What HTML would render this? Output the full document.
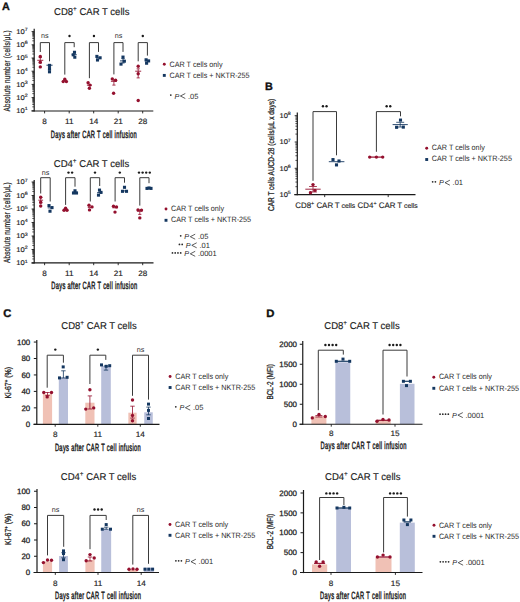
<!DOCTYPE html>
<html><head><meta charset="utf-8"><style>
html,body{margin:0;padding:0;background:#fff;width:520px;height:602px;overflow:hidden}
svg{display:block;font-family:"Liberation Sans", sans-serif}
</style></head><body>
<svg width="520" height="602" viewBox="0 0 520 602" text-rendering="geometricPrecision" font-family='"Liberation Sans", sans-serif'>
<rect width="520" height="602" fill="#fff"/>
<text transform="translate(1.90,9.50)" font-size="10.8" text-anchor="start" fill="#111" font-weight="bold" stroke="#111" stroke-width="0.35">A</text>
<text transform="translate(54.00,14.90) scale(0.965,1)" font-size="9.9" text-anchor="start" fill="#222" stroke="#222" stroke-width="0.15">CD8<tspan font-size="6.6" dy="-4.0">+</tspan><tspan dy="4.0"> CAR T cells</tspan></text>
<line x1="34.20" y1="28.70" x2="34.20" y2="111.40" stroke="#1a1a1a" stroke-width="1.2"/>
<line x1="31.60" y1="110.80" x2="34.20" y2="110.80" stroke="#1a1a1a" stroke-width="0.9"/>
<text transform="translate(27.60,113.20) scale(1.100,1)" font-size="6.9" text-anchor="end" fill="#222" stroke="#222" stroke-width="0.15">10<tspan font-size="4.8" dy="-2.9">1</tspan></text>
<line x1="32.30" y1="106.83" x2="34.20" y2="106.83" stroke="#1a1a1a" stroke-width="0.75"/>
<line x1="32.30" y1="104.50" x2="34.20" y2="104.50" stroke="#1a1a1a" stroke-width="0.75"/>
<line x1="32.30" y1="102.85" x2="34.20" y2="102.85" stroke="#1a1a1a" stroke-width="0.75"/>
<line x1="32.30" y1="101.57" x2="34.20" y2="101.57" stroke="#1a1a1a" stroke-width="0.75"/>
<line x1="32.30" y1="100.53" x2="34.20" y2="100.53" stroke="#1a1a1a" stroke-width="0.75"/>
<line x1="32.30" y1="99.64" x2="34.20" y2="99.64" stroke="#1a1a1a" stroke-width="0.75"/>
<line x1="32.30" y1="98.88" x2="34.20" y2="98.88" stroke="#1a1a1a" stroke-width="0.75"/>
<line x1="32.30" y1="98.20" x2="34.20" y2="98.20" stroke="#1a1a1a" stroke-width="0.75"/>
<line x1="31.60" y1="97.60" x2="34.20" y2="97.60" stroke="#1a1a1a" stroke-width="0.9"/>
<text transform="translate(27.60,100.00) scale(1.100,1)" font-size="6.9" text-anchor="end" fill="#222" stroke="#222" stroke-width="0.15">10<tspan font-size="4.8" dy="-2.9">2</tspan></text>
<line x1="32.30" y1="93.63" x2="34.20" y2="93.63" stroke="#1a1a1a" stroke-width="0.75"/>
<line x1="32.30" y1="91.30" x2="34.20" y2="91.30" stroke="#1a1a1a" stroke-width="0.75"/>
<line x1="32.30" y1="89.65" x2="34.20" y2="89.65" stroke="#1a1a1a" stroke-width="0.75"/>
<line x1="32.30" y1="88.37" x2="34.20" y2="88.37" stroke="#1a1a1a" stroke-width="0.75"/>
<line x1="32.30" y1="87.33" x2="34.20" y2="87.33" stroke="#1a1a1a" stroke-width="0.75"/>
<line x1="32.30" y1="86.44" x2="34.20" y2="86.44" stroke="#1a1a1a" stroke-width="0.75"/>
<line x1="32.30" y1="85.68" x2="34.20" y2="85.68" stroke="#1a1a1a" stroke-width="0.75"/>
<line x1="32.30" y1="85.00" x2="34.20" y2="85.00" stroke="#1a1a1a" stroke-width="0.75"/>
<line x1="31.60" y1="84.40" x2="34.20" y2="84.40" stroke="#1a1a1a" stroke-width="0.9"/>
<text transform="translate(27.60,86.80) scale(1.100,1)" font-size="6.9" text-anchor="end" fill="#222" stroke="#222" stroke-width="0.15">10<tspan font-size="4.8" dy="-2.9">3</tspan></text>
<line x1="32.30" y1="80.43" x2="34.20" y2="80.43" stroke="#1a1a1a" stroke-width="0.75"/>
<line x1="32.30" y1="78.10" x2="34.20" y2="78.10" stroke="#1a1a1a" stroke-width="0.75"/>
<line x1="32.30" y1="76.45" x2="34.20" y2="76.45" stroke="#1a1a1a" stroke-width="0.75"/>
<line x1="32.30" y1="75.17" x2="34.20" y2="75.17" stroke="#1a1a1a" stroke-width="0.75"/>
<line x1="32.30" y1="74.13" x2="34.20" y2="74.13" stroke="#1a1a1a" stroke-width="0.75"/>
<line x1="32.30" y1="73.24" x2="34.20" y2="73.24" stroke="#1a1a1a" stroke-width="0.75"/>
<line x1="32.30" y1="72.48" x2="34.20" y2="72.48" stroke="#1a1a1a" stroke-width="0.75"/>
<line x1="32.30" y1="71.80" x2="34.20" y2="71.80" stroke="#1a1a1a" stroke-width="0.75"/>
<line x1="31.60" y1="71.20" x2="34.20" y2="71.20" stroke="#1a1a1a" stroke-width="0.9"/>
<text transform="translate(27.60,73.60) scale(1.100,1)" font-size="6.9" text-anchor="end" fill="#222" stroke="#222" stroke-width="0.15">10<tspan font-size="4.8" dy="-2.9">4</tspan></text>
<line x1="32.30" y1="67.23" x2="34.20" y2="67.23" stroke="#1a1a1a" stroke-width="0.75"/>
<line x1="32.30" y1="64.90" x2="34.20" y2="64.90" stroke="#1a1a1a" stroke-width="0.75"/>
<line x1="32.30" y1="63.25" x2="34.20" y2="63.25" stroke="#1a1a1a" stroke-width="0.75"/>
<line x1="32.30" y1="61.97" x2="34.20" y2="61.97" stroke="#1a1a1a" stroke-width="0.75"/>
<line x1="32.30" y1="60.93" x2="34.20" y2="60.93" stroke="#1a1a1a" stroke-width="0.75"/>
<line x1="32.30" y1="60.04" x2="34.20" y2="60.04" stroke="#1a1a1a" stroke-width="0.75"/>
<line x1="32.30" y1="59.28" x2="34.20" y2="59.28" stroke="#1a1a1a" stroke-width="0.75"/>
<line x1="32.30" y1="58.60" x2="34.20" y2="58.60" stroke="#1a1a1a" stroke-width="0.75"/>
<line x1="31.60" y1="58.00" x2="34.20" y2="58.00" stroke="#1a1a1a" stroke-width="0.9"/>
<text transform="translate(27.60,60.40) scale(1.100,1)" font-size="6.9" text-anchor="end" fill="#222" stroke="#222" stroke-width="0.15">10<tspan font-size="4.8" dy="-2.9">5</tspan></text>
<line x1="32.30" y1="54.03" x2="34.20" y2="54.03" stroke="#1a1a1a" stroke-width="0.75"/>
<line x1="32.30" y1="51.70" x2="34.20" y2="51.70" stroke="#1a1a1a" stroke-width="0.75"/>
<line x1="32.30" y1="50.05" x2="34.20" y2="50.05" stroke="#1a1a1a" stroke-width="0.75"/>
<line x1="32.30" y1="48.77" x2="34.20" y2="48.77" stroke="#1a1a1a" stroke-width="0.75"/>
<line x1="32.30" y1="47.73" x2="34.20" y2="47.73" stroke="#1a1a1a" stroke-width="0.75"/>
<line x1="32.30" y1="46.84" x2="34.20" y2="46.84" stroke="#1a1a1a" stroke-width="0.75"/>
<line x1="32.30" y1="46.08" x2="34.20" y2="46.08" stroke="#1a1a1a" stroke-width="0.75"/>
<line x1="32.30" y1="45.40" x2="34.20" y2="45.40" stroke="#1a1a1a" stroke-width="0.75"/>
<line x1="31.60" y1="44.80" x2="34.20" y2="44.80" stroke="#1a1a1a" stroke-width="0.9"/>
<text transform="translate(27.60,47.20) scale(1.100,1)" font-size="6.9" text-anchor="end" fill="#222" stroke="#222" stroke-width="0.15">10<tspan font-size="4.8" dy="-2.9">6</tspan></text>
<line x1="32.30" y1="40.83" x2="34.20" y2="40.83" stroke="#1a1a1a" stroke-width="0.75"/>
<line x1="32.30" y1="38.50" x2="34.20" y2="38.50" stroke="#1a1a1a" stroke-width="0.75"/>
<line x1="32.30" y1="36.85" x2="34.20" y2="36.85" stroke="#1a1a1a" stroke-width="0.75"/>
<line x1="32.30" y1="35.57" x2="34.20" y2="35.57" stroke="#1a1a1a" stroke-width="0.75"/>
<line x1="32.30" y1="34.53" x2="34.20" y2="34.53" stroke="#1a1a1a" stroke-width="0.75"/>
<line x1="32.30" y1="33.64" x2="34.20" y2="33.64" stroke="#1a1a1a" stroke-width="0.75"/>
<line x1="32.30" y1="32.88" x2="34.20" y2="32.88" stroke="#1a1a1a" stroke-width="0.75"/>
<line x1="32.30" y1="32.20" x2="34.20" y2="32.20" stroke="#1a1a1a" stroke-width="0.75"/>
<line x1="31.60" y1="31.60" x2="34.20" y2="31.60" stroke="#1a1a1a" stroke-width="0.9"/>
<text transform="translate(27.60,34.00) scale(1.100,1)" font-size="6.9" text-anchor="end" fill="#222" stroke="#222" stroke-width="0.15">10<tspan font-size="4.8" dy="-2.9">7</tspan></text>
<line x1="31.60" y1="111.00" x2="153.30" y2="111.00" stroke="#1a1a1a" stroke-width="1.2"/>
<line x1="44.60" y1="111.00" x2="44.60" y2="113.40" stroke="#1a1a1a" stroke-width="0.9"/>
<text transform="translate(44.60,124.00) scale(1.050,1)" font-size="7.8" text-anchor="middle" fill="#222" stroke="#222" stroke-width="0.15">8</text>
<line x1="69.20" y1="111.00" x2="69.20" y2="113.40" stroke="#1a1a1a" stroke-width="0.9"/>
<text transform="translate(69.20,124.00) scale(1.050,1)" font-size="7.8" text-anchor="middle" fill="#222" stroke="#222" stroke-width="0.15">11</text>
<line x1="93.70" y1="111.00" x2="93.70" y2="113.40" stroke="#1a1a1a" stroke-width="0.9"/>
<text transform="translate(93.70,124.00) scale(1.050,1)" font-size="7.8" text-anchor="middle" fill="#222" stroke="#222" stroke-width="0.15">14</text>
<line x1="118.20" y1="111.00" x2="118.20" y2="113.40" stroke="#1a1a1a" stroke-width="0.9"/>
<text transform="translate(118.20,124.00) scale(1.050,1)" font-size="7.8" text-anchor="middle" fill="#222" stroke="#222" stroke-width="0.15">21</text>
<line x1="142.70" y1="111.00" x2="142.70" y2="113.40" stroke="#1a1a1a" stroke-width="0.9"/>
<text transform="translate(142.70,124.00) scale(1.050,1)" font-size="7.8" text-anchor="middle" fill="#222" stroke="#222" stroke-width="0.15">28</text>
<text transform="translate(50.80,137.60) scale(0.552,1)" font-size="10.4" text-anchor="start" fill="#222" stroke="#222" stroke-width="0.5" letter-spacing="0.6">Days after CAR T cell infusion</text>
<text transform="translate(10.30,111.50) rotate(-90) scale(0.706,1)" font-size="9.0" text-anchor="start" fill="#222" stroke="#222" stroke-width="0.25" letter-spacing="0.3">Absolute number (cells/μL)</text>
<polyline points="40.30,52.00 40.30,42.60 49.50,42.60 49.50,61.30" fill="none" stroke="#3a3a3a" stroke-width="1.0"/>
<text transform="translate(44.90,38.30)" font-size="7.2" text-anchor="middle" fill="#333">ns</text>
<polyline points="64.80,74.60 64.80,42.60 74.20,42.60 74.20,47.20" fill="none" stroke="#3a3a3a" stroke-width="1.0"/>
<circle cx="69.50" cy="36.00" r="1.2" fill="#1a1a1a"/>
<polyline points="89.40,78.20 89.40,42.60 98.50,42.60 98.50,51.90" fill="none" stroke="#3a3a3a" stroke-width="1.0"/>
<circle cx="93.95" cy="36.00" r="1.2" fill="#1a1a1a"/>
<polyline points="113.90,74.40 113.90,42.60 123.00,42.60 123.00,51.90" fill="none" stroke="#3a3a3a" stroke-width="1.0"/>
<text transform="translate(118.45,38.30)" font-size="7.2" text-anchor="middle" fill="#333">ns</text>
<polyline points="138.20,61.30 138.20,42.60 147.40,42.60 147.40,55.60" fill="none" stroke="#3a3a3a" stroke-width="1.0"/>
<circle cx="142.80" cy="36.00" r="1.2" fill="#1a1a1a"/>
<line x1="40.30" y1="57.60" x2="40.30" y2="63.00" stroke="#94102e" stroke-width="0.8"/>
<line x1="38.70" y1="57.60" x2="41.90" y2="57.60" stroke="#94102e" stroke-width="0.8"/>
<line x1="38.70" y1="63.00" x2="41.90" y2="63.00" stroke="#94102e" stroke-width="0.8"/>
<line x1="37.30" y1="60.30" x2="43.30" y2="60.30" stroke="#94102e" stroke-width="0.9"/>
<circle cx="40.30" cy="56.50" r="1.7" fill="#94102e"/>
<circle cx="40.30" cy="62.30" r="1.7" fill="#94102e"/>
<circle cx="40.30" cy="66.90" r="1.7" fill="#94102e"/>
<line x1="49.50" y1="65.20" x2="49.50" y2="70.00" stroke="#143760" stroke-width="0.8"/>
<line x1="47.90" y1="65.20" x2="51.10" y2="65.20" stroke="#143760" stroke-width="0.8"/>
<line x1="47.90" y1="70.00" x2="51.10" y2="70.00" stroke="#143760" stroke-width="0.8"/>
<line x1="46.40" y1="65.20" x2="52.60" y2="65.20" stroke="#143760" stroke-width="0.9"/>
<rect x="47.95" y="63.85" width="3.1" height="3.1" fill="#143760"/>
<rect x="47.95" y="67.05" width="3.1" height="3.1" fill="#143760"/>
<rect x="47.95" y="70.25" width="3.1" height="3.1" fill="#143760"/>
<line x1="62.30" y1="80.80" x2="67.30" y2="80.80" stroke="#94102e" stroke-width="0.9"/>
<circle cx="64.80" cy="79.20" r="1.7" fill="#94102e"/>
<circle cx="63.20" cy="81.60" r="1.7" fill="#94102e"/>
<circle cx="66.40" cy="81.60" r="1.7" fill="#94102e"/>
<line x1="71.70" y1="54.60" x2="76.70" y2="54.60" stroke="#143760" stroke-width="0.9"/>
<rect x="72.95" y="50.75" width="3.1" height="3.1" fill="#143760"/>
<rect x="71.65" y="53.25" width="3.1" height="3.1" fill="#143760"/>
<rect x="73.25" y="55.65" width="3.1" height="3.1" fill="#143760"/>
<line x1="86.90" y1="85.20" x2="91.90" y2="85.20" stroke="#94102e" stroke-width="0.9"/>
<circle cx="88.10" cy="82.70" r="1.7" fill="#94102e"/>
<circle cx="90.00" cy="85.10" r="1.7" fill="#94102e"/>
<circle cx="89.40" cy="88.30" r="1.7" fill="#94102e"/>
<line x1="96.00" y1="57.90" x2="101.00" y2="57.90" stroke="#143760" stroke-width="0.9"/>
<rect x="95.35" y="54.85" width="3.1" height="3.1" fill="#143760"/>
<rect x="98.55" y="56.25" width="3.1" height="3.1" fill="#143760"/>
<rect x="95.95" y="58.45" width="3.1" height="3.1" fill="#143760"/>
<line x1="113.90" y1="80.00" x2="113.90" y2="85.10" stroke="#94102e" stroke-width="0.8"/>
<line x1="112.30" y1="80.00" x2="115.50" y2="80.00" stroke="#94102e" stroke-width="0.8"/>
<line x1="112.30" y1="85.10" x2="115.50" y2="85.10" stroke="#94102e" stroke-width="0.8"/>
<line x1="110.90" y1="81.30" x2="116.90" y2="81.30" stroke="#94102e" stroke-width="0.9"/>
<circle cx="112.30" cy="78.90" r="1.7" fill="#94102e"/>
<circle cx="115.60" cy="80.30" r="1.7" fill="#94102e"/>
<circle cx="113.60" cy="93.20" r="1.7" fill="#94102e"/>
<line x1="123.00" y1="58.60" x2="123.00" y2="63.00" stroke="#143760" stroke-width="0.8"/>
<line x1="121.40" y1="58.60" x2="124.60" y2="58.60" stroke="#143760" stroke-width="0.8"/>
<line x1="121.40" y1="63.00" x2="124.60" y2="63.00" stroke="#143760" stroke-width="0.8"/>
<line x1="120.00" y1="60.90" x2="126.00" y2="60.90" stroke="#143760" stroke-width="0.9"/>
<rect x="121.45" y="55.55" width="3.1" height="3.1" fill="#143760"/>
<rect x="122.75" y="59.65" width="3.1" height="3.1" fill="#143760"/>
<rect x="119.45" y="62.55" width="3.1" height="3.1" fill="#143760"/>
<line x1="138.20" y1="68.80" x2="138.20" y2="77.90" stroke="#94102e" stroke-width="0.8"/>
<line x1="136.60" y1="68.80" x2="139.80" y2="68.80" stroke="#94102e" stroke-width="0.8"/>
<line x1="136.60" y1="77.90" x2="139.80" y2="77.90" stroke="#94102e" stroke-width="0.8"/>
<line x1="135.20" y1="71.20" x2="141.20" y2="71.20" stroke="#94102e" stroke-width="0.9"/>
<circle cx="138.20" cy="66.30" r="1.7" fill="#94102e"/>
<circle cx="138.20" cy="73.70" r="1.7" fill="#94102e"/>
<circle cx="138.20" cy="100.50" r="1.7" fill="#94102e"/>
<line x1="144.90" y1="61.00" x2="149.90" y2="61.00" stroke="#143760" stroke-width="0.9"/>
<rect x="144.55" y="58.25" width="3.1" height="3.1" fill="#143760"/>
<rect x="147.05" y="59.35" width="3.1" height="3.1" fill="#143760"/>
<rect x="145.05" y="61.65" width="3.1" height="3.1" fill="#143760"/>
<circle cx="164.30" cy="64.30" r="1.45" fill="#94102e"/>
<rect x="162.85" y="73.95" width="2.9" height="2.9" fill="#143760"/>
<text transform="translate(169.50,66.50) scale(0.925,1)" font-size="7.8" text-anchor="start" fill="#2a2a2a">CAR T cells only</text>
<text transform="translate(169.50,77.70) scale(0.925,1)" font-size="7.8" text-anchor="start" fill="#2a2a2a">CAR T cells + NKTR-255</text>
<circle cx="170.80" cy="95.10" r="0.88" fill="#2a2a2a"/>
<text transform="translate(174.40,98.50)" font-size="7.2" text-anchor="start" fill="#2a2a2a" font-style="italic">P</text>
<polyline points="185.30,93.50 180.40,96.00 185.30,98.50" fill="none" stroke="#2a2a2a" stroke-width="0.75"/>
<text transform="translate(188.00,98.50)" font-size="7.5" text-anchor="start" fill="#2a2a2a">.05</text>
<text transform="translate(53.80,167.00) scale(0.965,1)" font-size="9.9" text-anchor="start" fill="#222" stroke="#222" stroke-width="0.15">CD4<tspan font-size="6.6" dy="-4.0">+</tspan><tspan dy="4.0"> CAR T cells</tspan></text>
<line x1="34.20" y1="180.00" x2="34.20" y2="263.60" stroke="#1a1a1a" stroke-width="1.2"/>
<line x1="31.60" y1="263.00" x2="34.20" y2="263.00" stroke="#1a1a1a" stroke-width="0.9"/>
<text transform="translate(27.60,265.40) scale(1.100,1)" font-size="6.9" text-anchor="end" fill="#222" stroke="#222" stroke-width="0.15">10<tspan font-size="4.8" dy="-2.9">1</tspan></text>
<line x1="32.30" y1="258.94" x2="34.20" y2="258.94" stroke="#1a1a1a" stroke-width="0.75"/>
<line x1="32.30" y1="256.56" x2="34.20" y2="256.56" stroke="#1a1a1a" stroke-width="0.75"/>
<line x1="32.30" y1="254.87" x2="34.20" y2="254.87" stroke="#1a1a1a" stroke-width="0.75"/>
<line x1="32.30" y1="253.56" x2="34.20" y2="253.56" stroke="#1a1a1a" stroke-width="0.75"/>
<line x1="32.30" y1="252.49" x2="34.20" y2="252.49" stroke="#1a1a1a" stroke-width="0.75"/>
<line x1="32.30" y1="251.59" x2="34.20" y2="251.59" stroke="#1a1a1a" stroke-width="0.75"/>
<line x1="32.30" y1="250.81" x2="34.20" y2="250.81" stroke="#1a1a1a" stroke-width="0.75"/>
<line x1="32.30" y1="250.12" x2="34.20" y2="250.12" stroke="#1a1a1a" stroke-width="0.75"/>
<line x1="31.60" y1="249.50" x2="34.20" y2="249.50" stroke="#1a1a1a" stroke-width="0.9"/>
<text transform="translate(27.60,251.90) scale(1.100,1)" font-size="6.9" text-anchor="end" fill="#222" stroke="#222" stroke-width="0.15">10<tspan font-size="4.8" dy="-2.9">2</tspan></text>
<line x1="32.30" y1="245.44" x2="34.20" y2="245.44" stroke="#1a1a1a" stroke-width="0.75"/>
<line x1="32.30" y1="243.06" x2="34.20" y2="243.06" stroke="#1a1a1a" stroke-width="0.75"/>
<line x1="32.30" y1="241.37" x2="34.20" y2="241.37" stroke="#1a1a1a" stroke-width="0.75"/>
<line x1="32.30" y1="240.06" x2="34.20" y2="240.06" stroke="#1a1a1a" stroke-width="0.75"/>
<line x1="32.30" y1="238.99" x2="34.20" y2="238.99" stroke="#1a1a1a" stroke-width="0.75"/>
<line x1="32.30" y1="238.09" x2="34.20" y2="238.09" stroke="#1a1a1a" stroke-width="0.75"/>
<line x1="32.30" y1="237.31" x2="34.20" y2="237.31" stroke="#1a1a1a" stroke-width="0.75"/>
<line x1="32.30" y1="236.62" x2="34.20" y2="236.62" stroke="#1a1a1a" stroke-width="0.75"/>
<line x1="31.60" y1="236.00" x2="34.20" y2="236.00" stroke="#1a1a1a" stroke-width="0.9"/>
<text transform="translate(27.60,238.40) scale(1.100,1)" font-size="6.9" text-anchor="end" fill="#222" stroke="#222" stroke-width="0.15">10<tspan font-size="4.8" dy="-2.9">3</tspan></text>
<line x1="32.30" y1="231.94" x2="34.20" y2="231.94" stroke="#1a1a1a" stroke-width="0.75"/>
<line x1="32.30" y1="229.56" x2="34.20" y2="229.56" stroke="#1a1a1a" stroke-width="0.75"/>
<line x1="32.30" y1="227.87" x2="34.20" y2="227.87" stroke="#1a1a1a" stroke-width="0.75"/>
<line x1="32.30" y1="226.56" x2="34.20" y2="226.56" stroke="#1a1a1a" stroke-width="0.75"/>
<line x1="32.30" y1="225.49" x2="34.20" y2="225.49" stroke="#1a1a1a" stroke-width="0.75"/>
<line x1="32.30" y1="224.59" x2="34.20" y2="224.59" stroke="#1a1a1a" stroke-width="0.75"/>
<line x1="32.30" y1="223.81" x2="34.20" y2="223.81" stroke="#1a1a1a" stroke-width="0.75"/>
<line x1="32.30" y1="223.12" x2="34.20" y2="223.12" stroke="#1a1a1a" stroke-width="0.75"/>
<line x1="31.60" y1="222.50" x2="34.20" y2="222.50" stroke="#1a1a1a" stroke-width="0.9"/>
<text transform="translate(27.60,224.90) scale(1.100,1)" font-size="6.9" text-anchor="end" fill="#222" stroke="#222" stroke-width="0.15">10<tspan font-size="4.8" dy="-2.9">4</tspan></text>
<line x1="32.30" y1="218.44" x2="34.20" y2="218.44" stroke="#1a1a1a" stroke-width="0.75"/>
<line x1="32.30" y1="216.06" x2="34.20" y2="216.06" stroke="#1a1a1a" stroke-width="0.75"/>
<line x1="32.30" y1="214.37" x2="34.20" y2="214.37" stroke="#1a1a1a" stroke-width="0.75"/>
<line x1="32.30" y1="213.06" x2="34.20" y2="213.06" stroke="#1a1a1a" stroke-width="0.75"/>
<line x1="32.30" y1="211.99" x2="34.20" y2="211.99" stroke="#1a1a1a" stroke-width="0.75"/>
<line x1="32.30" y1="211.09" x2="34.20" y2="211.09" stroke="#1a1a1a" stroke-width="0.75"/>
<line x1="32.30" y1="210.31" x2="34.20" y2="210.31" stroke="#1a1a1a" stroke-width="0.75"/>
<line x1="32.30" y1="209.62" x2="34.20" y2="209.62" stroke="#1a1a1a" stroke-width="0.75"/>
<line x1="31.60" y1="209.00" x2="34.20" y2="209.00" stroke="#1a1a1a" stroke-width="0.9"/>
<text transform="translate(27.60,211.40) scale(1.100,1)" font-size="6.9" text-anchor="end" fill="#222" stroke="#222" stroke-width="0.15">10<tspan font-size="4.8" dy="-2.9">5</tspan></text>
<line x1="32.30" y1="204.94" x2="34.20" y2="204.94" stroke="#1a1a1a" stroke-width="0.75"/>
<line x1="32.30" y1="202.56" x2="34.20" y2="202.56" stroke="#1a1a1a" stroke-width="0.75"/>
<line x1="32.30" y1="200.87" x2="34.20" y2="200.87" stroke="#1a1a1a" stroke-width="0.75"/>
<line x1="32.30" y1="199.56" x2="34.20" y2="199.56" stroke="#1a1a1a" stroke-width="0.75"/>
<line x1="32.30" y1="198.49" x2="34.20" y2="198.49" stroke="#1a1a1a" stroke-width="0.75"/>
<line x1="32.30" y1="197.59" x2="34.20" y2="197.59" stroke="#1a1a1a" stroke-width="0.75"/>
<line x1="32.30" y1="196.81" x2="34.20" y2="196.81" stroke="#1a1a1a" stroke-width="0.75"/>
<line x1="32.30" y1="196.12" x2="34.20" y2="196.12" stroke="#1a1a1a" stroke-width="0.75"/>
<line x1="31.60" y1="195.50" x2="34.20" y2="195.50" stroke="#1a1a1a" stroke-width="0.9"/>
<text transform="translate(27.60,197.90) scale(1.100,1)" font-size="6.9" text-anchor="end" fill="#222" stroke="#222" stroke-width="0.15">10<tspan font-size="4.8" dy="-2.9">6</tspan></text>
<line x1="32.30" y1="191.44" x2="34.20" y2="191.44" stroke="#1a1a1a" stroke-width="0.75"/>
<line x1="32.30" y1="189.06" x2="34.20" y2="189.06" stroke="#1a1a1a" stroke-width="0.75"/>
<line x1="32.30" y1="187.37" x2="34.20" y2="187.37" stroke="#1a1a1a" stroke-width="0.75"/>
<line x1="32.30" y1="186.06" x2="34.20" y2="186.06" stroke="#1a1a1a" stroke-width="0.75"/>
<line x1="32.30" y1="184.99" x2="34.20" y2="184.99" stroke="#1a1a1a" stroke-width="0.75"/>
<line x1="32.30" y1="184.09" x2="34.20" y2="184.09" stroke="#1a1a1a" stroke-width="0.75"/>
<line x1="32.30" y1="183.31" x2="34.20" y2="183.31" stroke="#1a1a1a" stroke-width="0.75"/>
<line x1="32.30" y1="182.62" x2="34.20" y2="182.62" stroke="#1a1a1a" stroke-width="0.75"/>
<line x1="31.60" y1="182.00" x2="34.20" y2="182.00" stroke="#1a1a1a" stroke-width="0.9"/>
<text transform="translate(27.60,184.40) scale(1.100,1)" font-size="6.9" text-anchor="end" fill="#222" stroke="#222" stroke-width="0.15">10<tspan font-size="4.8" dy="-2.9">7</tspan></text>
<line x1="31.60" y1="262.80" x2="153.50" y2="262.80" stroke="#1a1a1a" stroke-width="1.2"/>
<line x1="44.60" y1="262.80" x2="44.60" y2="265.20" stroke="#1a1a1a" stroke-width="0.9"/>
<text transform="translate(44.60,275.90) scale(1.050,1)" font-size="7.8" text-anchor="middle" fill="#222" stroke="#222" stroke-width="0.15">8</text>
<line x1="69.20" y1="262.80" x2="69.20" y2="265.20" stroke="#1a1a1a" stroke-width="0.9"/>
<text transform="translate(69.20,275.90) scale(1.050,1)" font-size="7.8" text-anchor="middle" fill="#222" stroke="#222" stroke-width="0.15">11</text>
<line x1="93.70" y1="262.80" x2="93.70" y2="265.20" stroke="#1a1a1a" stroke-width="0.9"/>
<text transform="translate(93.70,275.90) scale(1.050,1)" font-size="7.8" text-anchor="middle" fill="#222" stroke="#222" stroke-width="0.15">14</text>
<line x1="118.20" y1="262.80" x2="118.20" y2="265.20" stroke="#1a1a1a" stroke-width="0.9"/>
<text transform="translate(118.20,275.90) scale(1.050,1)" font-size="7.8" text-anchor="middle" fill="#222" stroke="#222" stroke-width="0.15">21</text>
<line x1="142.70" y1="262.80" x2="142.70" y2="265.20" stroke="#1a1a1a" stroke-width="0.9"/>
<text transform="translate(142.70,275.90) scale(1.050,1)" font-size="7.8" text-anchor="middle" fill="#222" stroke="#222" stroke-width="0.15">28</text>
<text transform="translate(51.20,289.00) scale(0.552,1)" font-size="10.4" text-anchor="start" fill="#222" stroke="#222" stroke-width="0.5" letter-spacing="0.6">Days after CAR T cell infusion</text>
<text transform="translate(10.30,262.90) rotate(-90) scale(0.702,1)" font-size="9.0" text-anchor="start" fill="#222" stroke="#222" stroke-width="0.25" letter-spacing="0.3">Absolute number (cells/μL)</text>
<polyline points="40.70,193.50 40.70,177.70 50.20,177.70 50.20,201.50" fill="none" stroke="#3a3a3a" stroke-width="1.0"/>
<text transform="translate(45.45,174.90)" font-size="7.2" text-anchor="middle" fill="#333">ns</text>
<polyline points="65.60,204.90 65.60,177.70 75.00,177.70 75.00,186.70" fill="none" stroke="#3a3a3a" stroke-width="1.0"/>
<circle cx="68.50" cy="172.60" r="1.2" fill="#1a1a1a"/>
<circle cx="72.10" cy="172.60" r="1.2" fill="#1a1a1a"/>
<polyline points="90.30,201.50 90.30,177.70 99.70,177.70 99.70,186.00" fill="none" stroke="#3a3a3a" stroke-width="1.0"/>
<circle cx="95.00" cy="172.60" r="1.2" fill="#1a1a1a"/>
<polyline points="115.10,201.50 115.10,177.70 124.50,177.70 124.50,182.70" fill="none" stroke="#3a3a3a" stroke-width="1.0"/>
<circle cx="119.80" cy="172.60" r="1.2" fill="#1a1a1a"/>
<polyline points="139.80,205.60 139.80,177.70 149.00,177.70 149.00,183.20" fill="none" stroke="#3a3a3a" stroke-width="1.0"/>
<circle cx="139.00" cy="172.60" r="1.2" fill="#1a1a1a"/>
<circle cx="142.60" cy="172.60" r="1.2" fill="#1a1a1a"/>
<circle cx="146.20" cy="172.60" r="1.2" fill="#1a1a1a"/>
<circle cx="149.80" cy="172.60" r="1.2" fill="#1a1a1a"/>
<line x1="40.70" y1="197.50" x2="40.70" y2="203.00" stroke="#94102e" stroke-width="0.8"/>
<line x1="39.10" y1="197.50" x2="42.30" y2="197.50" stroke="#94102e" stroke-width="0.8"/>
<line x1="39.10" y1="203.00" x2="42.30" y2="203.00" stroke="#94102e" stroke-width="0.8"/>
<line x1="38.30" y1="200.20" x2="43.10" y2="200.20" stroke="#94102e" stroke-width="0.9"/>
<circle cx="40.70" cy="197.20" r="1.7" fill="#94102e"/>
<circle cx="40.70" cy="202.20" r="1.7" fill="#94102e"/>
<circle cx="40.70" cy="206.00" r="1.7" fill="#94102e"/>
<line x1="47.70" y1="207.90" x2="52.70" y2="207.90" stroke="#143760" stroke-width="0.9"/>
<rect x="47.45" y="204.05" width="3.1" height="3.1" fill="#143760"/>
<rect x="50.45" y="206.05" width="3.1" height="3.1" fill="#143760"/>
<rect x="48.45" y="209.65" width="3.1" height="3.1" fill="#143760"/>
<line x1="63.10" y1="209.70" x2="68.10" y2="209.70" stroke="#94102e" stroke-width="0.9"/>
<circle cx="65.60" cy="208.30" r="1.7" fill="#94102e"/>
<circle cx="64.00" cy="210.30" r="1.7" fill="#94102e"/>
<circle cx="67.00" cy="210.30" r="1.7" fill="#94102e"/>
<line x1="72.50" y1="192.20" x2="77.50" y2="192.20" stroke="#143760" stroke-width="0.9"/>
<rect x="73.45" y="189.25" width="3.1" height="3.1" fill="#143760"/>
<rect x="71.95" y="191.45" width="3.1" height="3.1" fill="#143760"/>
<rect x="74.95" y="191.45" width="3.1" height="3.1" fill="#143760"/>
<line x1="87.80" y1="207.40" x2="92.80" y2="207.40" stroke="#94102e" stroke-width="0.9"/>
<circle cx="89.00" cy="205.30" r="1.7" fill="#94102e"/>
<circle cx="92.00" cy="206.90" r="1.7" fill="#94102e"/>
<circle cx="89.50" cy="209.90" r="1.7" fill="#94102e"/>
<line x1="97.20" y1="192.50" x2="102.20" y2="192.50" stroke="#143760" stroke-width="0.9"/>
<rect x="97.95" y="188.55" width="3.1" height="3.1" fill="#143760"/>
<rect x="99.45" y="190.85" width="3.1" height="3.1" fill="#143760"/>
<rect x="96.95" y="193.55" width="3.1" height="3.1" fill="#143760"/>
<line x1="112.40" y1="207.80" x2="117.80" y2="207.80" stroke="#94102e" stroke-width="0.9"/>
<circle cx="113.50" cy="206.20" r="1.7" fill="#94102e"/>
<circle cx="116.50" cy="206.90" r="1.7" fill="#94102e"/>
<circle cx="115.00" cy="212.10" r="1.7" fill="#94102e"/>
<line x1="121.20" y1="190.90" x2="127.80" y2="190.90" stroke="#143760" stroke-width="0.9"/>
<rect x="122.95" y="185.75" width="3.1" height="3.1" fill="#143760"/>
<rect x="120.95" y="189.75" width="3.1" height="3.1" fill="#143760"/>
<rect x="124.95" y="189.75" width="3.1" height="3.1" fill="#143760"/>
<line x1="139.80" y1="210.00" x2="139.80" y2="214.40" stroke="#94102e" stroke-width="0.8"/>
<line x1="138.20" y1="210.00" x2="141.40" y2="210.00" stroke="#94102e" stroke-width="0.8"/>
<line x1="138.20" y1="214.40" x2="141.40" y2="214.40" stroke="#94102e" stroke-width="0.8"/>
<line x1="137.10" y1="211.20" x2="142.50" y2="211.20" stroke="#94102e" stroke-width="0.9"/>
<circle cx="138.00" cy="209.90" r="1.7" fill="#94102e"/>
<circle cx="141.50" cy="210.10" r="1.7" fill="#94102e"/>
<circle cx="139.80" cy="217.90" r="1.7" fill="#94102e"/>
<line x1="146.10" y1="188.30" x2="151.90" y2="188.30" stroke="#143760" stroke-width="0.9"/>
<rect x="145.45" y="186.85" width="3.1" height="3.1" fill="#143760"/>
<rect x="147.45" y="186.45" width="3.1" height="3.1" fill="#143760"/>
<rect x="149.45" y="186.85" width="3.1" height="3.1" fill="#143760"/>
<circle cx="166.00" cy="209.00" r="1.45" fill="#94102e"/>
<rect x="164.55" y="218.85" width="2.9" height="2.9" fill="#143760"/>
<text transform="translate(171.00,210.80) scale(0.925,1)" font-size="7.8" text-anchor="start" fill="#2a2a2a">CAR T cells only</text>
<text transform="translate(171.00,221.80) scale(0.925,1)" font-size="7.8" text-anchor="start" fill="#2a2a2a">CAR T cells + NKTR-255</text>
<circle cx="180.70" cy="235.80" r="0.88" fill="#2a2a2a"/>
<text transform="translate(184.30,239.20)" font-size="7.2" text-anchor="start" fill="#2a2a2a" font-style="italic">P</text>
<polyline points="195.20,234.20 190.30,236.70 195.20,239.20" fill="none" stroke="#2a2a2a" stroke-width="0.75"/>
<text transform="translate(197.90,239.20)" font-size="7.5" text-anchor="start" fill="#2a2a2a">.05</text>
<circle cx="179.45" cy="244.40" r="0.88" fill="#2a2a2a"/>
<circle cx="182.20" cy="244.40" r="0.88" fill="#2a2a2a"/>
<text transform="translate(185.80,247.80)" font-size="7.2" text-anchor="start" fill="#2a2a2a" font-style="italic">P</text>
<polyline points="196.70,242.80 191.80,245.30 196.70,247.80" fill="none" stroke="#2a2a2a" stroke-width="0.75"/>
<text transform="translate(199.40,247.80)" font-size="7.5" text-anchor="start" fill="#2a2a2a">.01</text>
<circle cx="172.45" cy="252.90" r="0.88" fill="#2a2a2a"/>
<circle cx="175.20" cy="252.90" r="0.88" fill="#2a2a2a"/>
<circle cx="177.95" cy="252.90" r="0.88" fill="#2a2a2a"/>
<circle cx="180.70" cy="252.90" r="0.88" fill="#2a2a2a"/>
<text transform="translate(184.30,256.30)" font-size="7.2" text-anchor="start" fill="#2a2a2a" font-style="italic">P</text>
<polyline points="195.20,251.30 190.30,253.80 195.20,256.30" fill="none" stroke="#2a2a2a" stroke-width="0.75"/>
<text transform="translate(197.90,256.30)" font-size="7.5" text-anchor="start" fill="#2a2a2a">.0001</text>
<text transform="translate(265.00,89.70)" font-size="10.8" text-anchor="start" fill="#111" font-weight="bold" stroke="#111" stroke-width="0.35">B</text>
<line x1="297.30" y1="112.50" x2="297.30" y2="195.20" stroke="#1a1a1a" stroke-width="1.2"/>
<line x1="294.70" y1="194.60" x2="297.30" y2="194.60" stroke="#1a1a1a" stroke-width="0.9"/>
<text transform="translate(290.80,197.00) scale(1.100,1)" font-size="6.9" text-anchor="end" fill="#222" stroke="#222" stroke-width="0.15">10<tspan font-size="4.8" dy="-2.9">5</tspan></text>
<line x1="295.40" y1="186.68" x2="297.30" y2="186.68" stroke="#1a1a1a" stroke-width="0.75"/>
<line x1="295.40" y1="182.05" x2="297.30" y2="182.05" stroke="#1a1a1a" stroke-width="0.75"/>
<line x1="295.40" y1="178.77" x2="297.30" y2="178.77" stroke="#1a1a1a" stroke-width="0.75"/>
<line x1="295.40" y1="176.22" x2="297.30" y2="176.22" stroke="#1a1a1a" stroke-width="0.75"/>
<line x1="295.40" y1="174.13" x2="297.30" y2="174.13" stroke="#1a1a1a" stroke-width="0.75"/>
<line x1="295.40" y1="172.37" x2="297.30" y2="172.37" stroke="#1a1a1a" stroke-width="0.75"/>
<line x1="295.40" y1="170.85" x2="297.30" y2="170.85" stroke="#1a1a1a" stroke-width="0.75"/>
<line x1="295.40" y1="169.50" x2="297.30" y2="169.50" stroke="#1a1a1a" stroke-width="0.75"/>
<line x1="294.70" y1="168.30" x2="297.30" y2="168.30" stroke="#1a1a1a" stroke-width="0.9"/>
<text transform="translate(290.80,170.70) scale(1.100,1)" font-size="6.9" text-anchor="end" fill="#222" stroke="#222" stroke-width="0.15">10<tspan font-size="4.8" dy="-2.9">6</tspan></text>
<line x1="295.40" y1="160.38" x2="297.30" y2="160.38" stroke="#1a1a1a" stroke-width="0.75"/>
<line x1="295.40" y1="155.75" x2="297.30" y2="155.75" stroke="#1a1a1a" stroke-width="0.75"/>
<line x1="295.40" y1="152.47" x2="297.30" y2="152.47" stroke="#1a1a1a" stroke-width="0.75"/>
<line x1="295.40" y1="149.92" x2="297.30" y2="149.92" stroke="#1a1a1a" stroke-width="0.75"/>
<line x1="295.40" y1="147.83" x2="297.30" y2="147.83" stroke="#1a1a1a" stroke-width="0.75"/>
<line x1="295.40" y1="146.07" x2="297.30" y2="146.07" stroke="#1a1a1a" stroke-width="0.75"/>
<line x1="295.40" y1="144.55" x2="297.30" y2="144.55" stroke="#1a1a1a" stroke-width="0.75"/>
<line x1="295.40" y1="143.20" x2="297.30" y2="143.20" stroke="#1a1a1a" stroke-width="0.75"/>
<line x1="294.70" y1="142.00" x2="297.30" y2="142.00" stroke="#1a1a1a" stroke-width="0.9"/>
<text transform="translate(290.80,144.40) scale(1.100,1)" font-size="6.9" text-anchor="end" fill="#222" stroke="#222" stroke-width="0.15">10<tspan font-size="4.8" dy="-2.9">7</tspan></text>
<line x1="295.40" y1="134.08" x2="297.30" y2="134.08" stroke="#1a1a1a" stroke-width="0.75"/>
<line x1="295.40" y1="129.45" x2="297.30" y2="129.45" stroke="#1a1a1a" stroke-width="0.75"/>
<line x1="295.40" y1="126.17" x2="297.30" y2="126.17" stroke="#1a1a1a" stroke-width="0.75"/>
<line x1="295.40" y1="123.62" x2="297.30" y2="123.62" stroke="#1a1a1a" stroke-width="0.75"/>
<line x1="295.40" y1="121.53" x2="297.30" y2="121.53" stroke="#1a1a1a" stroke-width="0.75"/>
<line x1="295.40" y1="119.77" x2="297.30" y2="119.77" stroke="#1a1a1a" stroke-width="0.75"/>
<line x1="295.40" y1="118.25" x2="297.30" y2="118.25" stroke="#1a1a1a" stroke-width="0.75"/>
<line x1="295.40" y1="116.90" x2="297.30" y2="116.90" stroke="#1a1a1a" stroke-width="0.75"/>
<line x1="294.70" y1="115.70" x2="297.30" y2="115.70" stroke="#1a1a1a" stroke-width="0.9"/>
<text transform="translate(290.80,118.10) scale(1.100,1)" font-size="6.9" text-anchor="end" fill="#222" stroke="#222" stroke-width="0.15">10<tspan font-size="4.8" dy="-2.9">8</tspan></text>
<line x1="294.30" y1="194.70" x2="415.50" y2="194.70" stroke="#1a1a1a" stroke-width="1.2"/>
<line x1="324.70" y1="194.70" x2="324.70" y2="197.10" stroke="#1a1a1a" stroke-width="0.9"/>
<line x1="388.20" y1="194.70" x2="388.20" y2="197.10" stroke="#1a1a1a" stroke-width="0.9"/>
<text transform="translate(295.20,207.90) scale(0.990,1)" font-size="8.0" text-anchor="start" fill="#222" stroke="#222" stroke-width="0.12">CD8<tspan font-size="5.4" dy="-3.4">+</tspan><tspan dy="3.4"> CAR</tspan><tspan dx="-0.3"> T</tspan><tspan font-size="6.9"> cells</tspan></text>
<text transform="translate(357.60,207.90) scale(0.990,1)" font-size="8.0" text-anchor="start" fill="#222" stroke="#222" stroke-width="0.12">CD4<tspan font-size="5.4" dy="-3.4">+</tspan><tspan dy="3.4"> CAR</tspan><tspan dx="-0.3"> T</tspan><tspan font-size="6.9"> cells</tspan></text>
<text transform="translate(274.00,211.00) rotate(-90) scale(0.777,1)" font-size="8.4" text-anchor="start" fill="#222" stroke="#222" stroke-width="0.3">CAR T cells AUCD-28 (cells/μL x days)</text>
<polyline points="313.00,180.80 313.00,111.60 336.50,111.60 336.50,155.30" fill="none" stroke="#3a3a3a" stroke-width="1.0"/>
<circle cx="322.95" cy="106.30" r="1.2" fill="#1a1a1a"/>
<circle cx="326.55" cy="106.30" r="1.2" fill="#1a1a1a"/>
<polyline points="376.40,151.80 376.40,111.60 400.50,111.60 400.50,116.30" fill="none" stroke="#3a3a3a" stroke-width="1.0"/>
<circle cx="386.65" cy="106.30" r="1.2" fill="#1a1a1a"/>
<circle cx="390.25" cy="106.30" r="1.2" fill="#1a1a1a"/>
<line x1="313.00" y1="186.50" x2="313.00" y2="192.00" stroke="#94102e" stroke-width="0.8"/>
<line x1="309.10" y1="186.50" x2="316.90" y2="186.50" stroke="#94102e" stroke-width="0.8"/>
<line x1="309.10" y1="192.00" x2="316.90" y2="192.00" stroke="#94102e" stroke-width="0.8"/>
<line x1="305.30" y1="189.20" x2="320.70" y2="189.20" stroke="#94102e" stroke-width="0.9"/>
<circle cx="313.00" cy="184.60" r="1.7" fill="#94102e"/>
<circle cx="315.00" cy="190.40" r="1.7" fill="#94102e"/>
<circle cx="310.50" cy="192.80" r="1.7" fill="#94102e"/>
<line x1="328.80" y1="161.70" x2="344.40" y2="161.70" stroke="#143760" stroke-width="0.9"/>
<rect x="331.45" y="158.05" width="3.1" height="3.1" fill="#143760"/>
<rect x="337.45" y="159.45" width="3.1" height="3.1" fill="#143760"/>
<rect x="334.95" y="163.35" width="3.1" height="3.1" fill="#143760"/>
<line x1="369.70" y1="157.10" x2="382.70" y2="157.10" stroke="#94102e" stroke-width="1.2"/>
<circle cx="369.70" cy="157.10" r="1.7" fill="#94102e"/>
<circle cx="376.40" cy="157.10" r="1.7" fill="#94102e"/>
<circle cx="382.70" cy="157.10" r="1.7" fill="#94102e"/>
<line x1="400.20" y1="122.30" x2="400.20" y2="127.00" stroke="#143760" stroke-width="0.8"/>
<line x1="396.20" y1="122.30" x2="404.20" y2="122.30" stroke="#143760" stroke-width="0.8"/>
<line x1="396.20" y1="127.00" x2="404.20" y2="127.00" stroke="#143760" stroke-width="0.8"/>
<line x1="392.60" y1="124.60" x2="407.80" y2="124.60" stroke="#143760" stroke-width="0.9"/>
<rect x="395.05" y="125.75" width="3.1" height="3.1" fill="#143760"/>
<rect x="398.95" y="118.55" width="3.1" height="3.1" fill="#143760"/>
<rect x="401.75" y="125.55" width="3.1" height="3.1" fill="#143760"/>
<circle cx="426.70" cy="148.30" r="1.45" fill="#94102e"/>
<rect x="425.25" y="158.05" width="2.9" height="2.9" fill="#143760"/>
<text transform="translate(431.80,150.30) scale(0.925,1)" font-size="7.8" text-anchor="start" fill="#2a2a2a">CAR T cells only</text>
<text transform="translate(431.80,161.20) scale(0.925,1)" font-size="7.8" text-anchor="start" fill="#2a2a2a">CAR T cells + NKTR-255</text>
<circle cx="432.65" cy="181.80" r="0.88" fill="#2a2a2a"/>
<circle cx="435.40" cy="181.80" r="0.88" fill="#2a2a2a"/>
<text transform="translate(439.00,185.20)" font-size="7.2" text-anchor="start" fill="#2a2a2a" font-style="italic">P</text>
<polyline points="449.90,180.20 445.00,182.70 449.90,185.20" fill="none" stroke="#2a2a2a" stroke-width="0.75"/>
<text transform="translate(452.60,185.20)" font-size="7.5" text-anchor="start" fill="#2a2a2a">.01</text>
<text transform="translate(3.20,316.60)" font-size="11.2" text-anchor="start" fill="#111" font-weight="bold" stroke="#111" stroke-width="0.35">C</text>
<text transform="translate(61.25,329.45) scale(0.965,1)" font-size="9.9" text-anchor="start" fill="#222" stroke="#222" stroke-width="0.15">CD8<tspan font-size="6.6" dy="-4.0">+</tspan><tspan dy="4.0"> CAR T cells</tspan></text>
<rect x="42.90" y="394.00" width="9.20" height="30.30" fill="#f0c1b5"/>
<rect x="58.80" y="377.60" width="9.20" height="46.70" fill="#b8bfda"/>
<rect x="85.30" y="402.70" width="9.20" height="21.60" fill="#f0c1b5"/>
<rect x="101.20" y="366.00" width="9.60" height="58.30" fill="#b8bfda"/>
<rect x="128.35" y="412.70" width="8.30" height="11.60" fill="#f0c1b5"/>
<rect x="144.25" y="412.30" width="8.50" height="12.00" fill="#b8bfda"/>
<line x1="47.50" y1="392.50" x2="47.50" y2="395.50" stroke="#94102e" stroke-width="0.8"/>
<line x1="45.30" y1="392.50" x2="49.70" y2="392.50" stroke="#94102e" stroke-width="0.8"/>
<line x1="45.30" y1="395.50" x2="49.70" y2="395.50" stroke="#94102e" stroke-width="0.8"/>
<circle cx="43.80" cy="392.50" r="1.7" fill="#94102e"/>
<circle cx="51.50" cy="392.50" r="1.7" fill="#94102e"/>
<circle cx="47.20" cy="396.90" r="1.7" fill="#94102e"/>
<line x1="63.40" y1="370.80" x2="63.40" y2="378.00" stroke="#143760" stroke-width="0.8"/>
<line x1="61.20" y1="370.80" x2="65.60" y2="370.80" stroke="#143760" stroke-width="0.8"/>
<line x1="61.20" y1="378.00" x2="65.60" y2="378.00" stroke="#143760" stroke-width="0.8"/>
<rect x="61.70" y="365.40" width="3.0" height="3.0" fill="#143760"/>
<rect x="58.00" y="376.40" width="3.0" height="3.0" fill="#143760"/>
<rect x="65.60" y="375.80" width="3.0" height="3.0" fill="#143760"/>
<line x1="89.90" y1="395.90" x2="89.90" y2="409.00" stroke="#94102e" stroke-width="0.8"/>
<line x1="87.70" y1="395.90" x2="92.10" y2="395.90" stroke="#94102e" stroke-width="0.8"/>
<line x1="87.70" y1="409.00" x2="92.10" y2="409.00" stroke="#94102e" stroke-width="0.8"/>
<circle cx="89.90" cy="389.70" r="1.7" fill="#94102e"/>
<circle cx="85.80" cy="409.10" r="1.7" fill="#94102e"/>
<circle cx="93.70" cy="407.90" r="1.7" fill="#94102e"/>
<line x1="106.00" y1="366.00" x2="106.00" y2="370.10" stroke="#143760" stroke-width="0.8"/>
<line x1="103.80" y1="366.00" x2="108.20" y2="366.00" stroke="#143760" stroke-width="0.8"/>
<line x1="103.80" y1="370.10" x2="108.20" y2="370.10" stroke="#143760" stroke-width="0.8"/>
<rect x="100.00" y="363.40" width="3.0" height="3.0" fill="#143760"/>
<rect x="104.70" y="364.80" width="3.0" height="3.0" fill="#143760"/>
<rect x="108.20" y="364.20" width="3.0" height="3.0" fill="#143760"/>
<line x1="132.50" y1="406.20" x2="132.50" y2="418.10" stroke="#94102e" stroke-width="0.8"/>
<line x1="130.30" y1="406.20" x2="134.70" y2="406.20" stroke="#94102e" stroke-width="0.8"/>
<line x1="130.30" y1="418.10" x2="134.70" y2="418.10" stroke="#94102e" stroke-width="0.8"/>
<circle cx="132.50" cy="400.00" r="1.7" fill="#94102e"/>
<circle cx="132.50" cy="415.40" r="1.7" fill="#94102e"/>
<circle cx="132.50" cy="420.80" r="1.7" fill="#94102e"/>
<line x1="148.50" y1="407.10" x2="148.50" y2="414.80" stroke="#143760" stroke-width="0.8"/>
<line x1="146.30" y1="407.10" x2="150.70" y2="407.10" stroke="#143760" stroke-width="0.8"/>
<line x1="146.30" y1="414.80" x2="150.70" y2="414.80" stroke="#143760" stroke-width="0.8"/>
<rect x="147.00" y="402.60" width="3.0" height="3.0" fill="#143760"/>
<rect x="147.00" y="408.90" width="3.0" height="3.0" fill="#143760"/>
<rect x="147.00" y="417.00" width="3.0" height="3.0" fill="#143760"/>
<line x1="36.80" y1="340.00" x2="36.80" y2="424.90" stroke="#1a1a1a" stroke-width="1.2"/>
<line x1="33.80" y1="424.30" x2="36.80" y2="424.30" stroke="#1a1a1a" stroke-width="1.0"/>
<text transform="translate(30.30,427.00) scale(1.020,1)" font-size="7.8" text-anchor="end" fill="#222" stroke="#222" stroke-width="0.25">0</text>
<line x1="33.80" y1="407.85" x2="36.80" y2="407.85" stroke="#1a1a1a" stroke-width="1.0"/>
<text transform="translate(30.30,410.55) scale(1.020,1)" font-size="7.8" text-anchor="end" fill="#222" stroke="#222" stroke-width="0.25">20</text>
<line x1="33.80" y1="391.40" x2="36.80" y2="391.40" stroke="#1a1a1a" stroke-width="1.0"/>
<text transform="translate(30.30,394.10) scale(1.020,1)" font-size="7.8" text-anchor="end" fill="#222" stroke="#222" stroke-width="0.25">40</text>
<line x1="33.80" y1="374.95" x2="36.80" y2="374.95" stroke="#1a1a1a" stroke-width="1.0"/>
<text transform="translate(30.30,377.65) scale(1.020,1)" font-size="7.8" text-anchor="end" fill="#222" stroke="#222" stroke-width="0.25">60</text>
<line x1="33.80" y1="358.50" x2="36.80" y2="358.50" stroke="#1a1a1a" stroke-width="1.0"/>
<text transform="translate(30.30,361.20) scale(1.020,1)" font-size="7.8" text-anchor="end" fill="#222" stroke="#222" stroke-width="0.25">80</text>
<line x1="33.80" y1="342.05" x2="36.80" y2="342.05" stroke="#1a1a1a" stroke-width="1.0"/>
<text transform="translate(30.30,344.75) scale(1.020,1)" font-size="7.8" text-anchor="end" fill="#222" stroke="#222" stroke-width="0.25">100</text>
<line x1="33.50" y1="424.30" x2="159.50" y2="424.30" stroke="#1a1a1a" stroke-width="1.2"/>
<line x1="55.20" y1="424.30" x2="55.20" y2="426.70" stroke="#1a1a1a" stroke-width="0.9"/>
<text transform="translate(55.20,437.40) scale(1.050,1)" font-size="7.8" text-anchor="middle" fill="#222" stroke="#222" stroke-width="0.15">8</text>
<line x1="97.80" y1="424.30" x2="97.80" y2="426.70" stroke="#1a1a1a" stroke-width="0.9"/>
<text transform="translate(97.80,437.40) scale(1.050,1)" font-size="7.8" text-anchor="middle" fill="#222" stroke="#222" stroke-width="0.15">11</text>
<line x1="140.30" y1="424.30" x2="140.30" y2="426.70" stroke="#1a1a1a" stroke-width="0.9"/>
<text transform="translate(140.30,437.40) scale(1.050,1)" font-size="7.8" text-anchor="middle" fill="#222" stroke="#222" stroke-width="0.15">14</text>
<text transform="translate(54.90,450.70) scale(0.552,1)" font-size="10.4" text-anchor="start" fill="#222" stroke="#222" stroke-width="0.5" letter-spacing="0.6">Days after CAR T cell infusion</text>
<text transform="translate(11.40,398.60) rotate(-90) scale(0.815,1)" font-size="8.6" text-anchor="start" fill="#222" stroke="#222" stroke-width="0.3">Ki-67<tspan font-size="5.2" dy="-3">+</tspan><tspan dy="3"> (%)</tspan></text>
<polyline points="47.20,387.70 47.20,355.20 63.40,355.20 63.40,362.70" fill="none" stroke="#3a3a3a" stroke-width="1.0"/>
<circle cx="55.30" cy="349.60" r="1.2" fill="#1a1a1a"/>
<polyline points="89.90,384.00 89.90,355.20 105.80,355.20 105.80,359.90" fill="none" stroke="#3a3a3a" stroke-width="1.0"/>
<circle cx="97.85" cy="349.60" r="1.2" fill="#1a1a1a"/>
<polyline points="132.50,395.80 132.50,355.20 148.50,355.20 148.50,399.60" fill="none" stroke="#3a3a3a" stroke-width="1.0"/>
<text transform="translate(140.50,351.90)" font-size="7.2" text-anchor="middle" fill="#333">ns</text>
<circle cx="170.10" cy="376.50" r="1.45" fill="#94102e"/>
<rect x="168.65" y="386.05" width="2.9" height="2.9" fill="#143760"/>
<text transform="translate(175.20,378.70) scale(0.925,1)" font-size="7.8" text-anchor="start" fill="#2a2a2a">CAR T cells only</text>
<text transform="translate(175.20,389.70) scale(0.925,1)" font-size="7.8" text-anchor="start" fill="#2a2a2a">CAR T cells + NKTR-255</text>
<circle cx="175.80" cy="406.80" r="0.88" fill="#2a2a2a"/>
<text transform="translate(179.40,410.20)" font-size="7.2" text-anchor="start" fill="#2a2a2a" font-style="italic">P</text>
<polyline points="190.30,405.20 185.40,407.70 190.30,410.20" fill="none" stroke="#2a2a2a" stroke-width="0.75"/>
<text transform="translate(193.00,410.20)" font-size="7.5" text-anchor="start" fill="#2a2a2a">.05</text>
<text transform="translate(60.75,480.20) scale(0.965,1)" font-size="9.9" text-anchor="start" fill="#222" stroke="#222" stroke-width="0.15">CD4<tspan font-size="6.6" dy="-4.0">+</tspan><tspan dy="4.0"> CAR T cells</tspan></text>
<rect x="42.90" y="561.40" width="9.20" height="11.10" fill="#f0c1b5"/>
<rect x="59.10" y="556.00" width="8.80" height="16.50" fill="#b8bfda"/>
<rect x="85.40" y="560.00" width="9.20" height="12.50" fill="#f0c1b5"/>
<rect x="101.25" y="529.20" width="9.90" height="43.30" fill="#b8bfda"/>
<rect x="128.50" y="569.40" width="9.00" height="3.10" fill="#f0c1b5"/>
<rect x="143.80" y="567.70" width="10.00" height="4.80" fill="#b8bfda"/>
<circle cx="43.40" cy="562.60" r="1.7" fill="#94102e"/>
<circle cx="47.50" cy="560.00" r="1.7" fill="#94102e"/>
<circle cx="51.50" cy="560.30" r="1.7" fill="#94102e"/>
<line x1="63.50" y1="552.70" x2="63.50" y2="557.80" stroke="#143760" stroke-width="0.8"/>
<line x1="61.30" y1="552.70" x2="65.70" y2="552.70" stroke="#143760" stroke-width="0.8"/>
<line x1="61.30" y1="557.80" x2="65.70" y2="557.80" stroke="#143760" stroke-width="0.8"/>
<rect x="62.00" y="549.40" width="3.0" height="3.0" fill="#143760"/>
<rect x="62.00" y="552.10" width="3.0" height="3.0" fill="#143760"/>
<rect x="62.00" y="558.20" width="3.0" height="3.0" fill="#143760"/>
<line x1="90.00" y1="557.00" x2="90.00" y2="561.00" stroke="#94102e" stroke-width="0.8"/>
<line x1="87.80" y1="557.00" x2="92.20" y2="557.00" stroke="#94102e" stroke-width="0.8"/>
<line x1="87.80" y1="561.00" x2="92.20" y2="561.00" stroke="#94102e" stroke-width="0.8"/>
<circle cx="86.20" cy="560.80" r="1.7" fill="#94102e"/>
<circle cx="90.00" cy="554.60" r="1.7" fill="#94102e"/>
<circle cx="94.20" cy="558.00" r="1.7" fill="#94102e"/>
<line x1="106.20" y1="527.20" x2="106.20" y2="529.20" stroke="#143760" stroke-width="0.8"/>
<line x1="104.00" y1="527.20" x2="108.40" y2="527.20" stroke="#143760" stroke-width="0.8"/>
<line x1="104.00" y1="529.20" x2="108.40" y2="529.20" stroke="#143760" stroke-width="0.8"/>
<rect x="100.80" y="527.70" width="3.0" height="3.0" fill="#143760"/>
<rect x="104.70" y="523.10" width="3.0" height="3.0" fill="#143760"/>
<rect x="109.00" y="527.70" width="3.0" height="3.0" fill="#143760"/>
<circle cx="129.00" cy="569.20" r="1.7" fill="#94102e"/>
<circle cx="133.00" cy="568.90" r="1.7" fill="#94102e"/>
<circle cx="137.00" cy="569.20" r="1.7" fill="#94102e"/>
<rect x="143.50" y="567.70" width="3.0" height="3.0" fill="#143760"/>
<rect x="147.30" y="567.70" width="3.0" height="3.0" fill="#143760"/>
<rect x="151.10" y="567.70" width="3.0" height="3.0" fill="#143760"/>
<line x1="37.00" y1="489.00" x2="37.00" y2="573.10" stroke="#1a1a1a" stroke-width="1.2"/>
<line x1="34.00" y1="572.50" x2="37.00" y2="572.50" stroke="#1a1a1a" stroke-width="1.0"/>
<text transform="translate(30.30,575.20) scale(1.020,1)" font-size="7.8" text-anchor="end" fill="#222" stroke="#222" stroke-width="0.25">0</text>
<line x1="34.00" y1="556.25" x2="37.00" y2="556.25" stroke="#1a1a1a" stroke-width="1.0"/>
<text transform="translate(30.30,558.95) scale(1.020,1)" font-size="7.8" text-anchor="end" fill="#222" stroke="#222" stroke-width="0.25">20</text>
<line x1="34.00" y1="540.00" x2="37.00" y2="540.00" stroke="#1a1a1a" stroke-width="1.0"/>
<text transform="translate(30.30,542.70) scale(1.020,1)" font-size="7.8" text-anchor="end" fill="#222" stroke="#222" stroke-width="0.25">40</text>
<line x1="34.00" y1="523.75" x2="37.00" y2="523.75" stroke="#1a1a1a" stroke-width="1.0"/>
<text transform="translate(30.30,526.45) scale(1.020,1)" font-size="7.8" text-anchor="end" fill="#222" stroke="#222" stroke-width="0.25">60</text>
<line x1="34.00" y1="507.50" x2="37.00" y2="507.50" stroke="#1a1a1a" stroke-width="1.0"/>
<text transform="translate(30.30,510.20) scale(1.020,1)" font-size="7.8" text-anchor="end" fill="#222" stroke="#222" stroke-width="0.25">80</text>
<line x1="34.00" y1="491.25" x2="37.00" y2="491.25" stroke="#1a1a1a" stroke-width="1.0"/>
<text transform="translate(30.30,493.95) scale(1.020,1)" font-size="7.8" text-anchor="end" fill="#222" stroke="#222" stroke-width="0.25">100</text>
<line x1="33.50" y1="572.50" x2="159.00" y2="572.50" stroke="#1a1a1a" stroke-width="1.2"/>
<line x1="55.30" y1="572.50" x2="55.30" y2="574.90" stroke="#1a1a1a" stroke-width="0.9"/>
<text transform="translate(55.30,585.60) scale(1.050,1)" font-size="7.8" text-anchor="middle" fill="#222" stroke="#222" stroke-width="0.15">8</text>
<line x1="98.00" y1="572.50" x2="98.00" y2="574.90" stroke="#1a1a1a" stroke-width="0.9"/>
<text transform="translate(98.00,585.60) scale(1.050,1)" font-size="7.8" text-anchor="middle" fill="#222" stroke="#222" stroke-width="0.15">11</text>
<line x1="141.20" y1="572.50" x2="141.20" y2="574.90" stroke="#1a1a1a" stroke-width="0.9"/>
<text transform="translate(141.20,585.60) scale(1.050,1)" font-size="7.8" text-anchor="middle" fill="#222" stroke="#222" stroke-width="0.15">14</text>
<text transform="translate(55.00,598.90) scale(0.552,1)" font-size="10.4" text-anchor="start" fill="#222" stroke="#222" stroke-width="0.5" letter-spacing="0.6">Days after CAR T cell infusion</text>
<text transform="translate(11.40,545.00) rotate(-90) scale(0.815,1)" font-size="8.6" text-anchor="start" fill="#222" stroke="#222" stroke-width="0.3">Ki-67<tspan font-size="5.2" dy="-3">+</tspan><tspan dy="3"> (%)</tspan></text>
<polyline points="47.50,555.40 47.50,515.40 63.70,515.40 63.70,546.80" fill="none" stroke="#3a3a3a" stroke-width="1.0"/>
<text transform="translate(55.60,511.80)" font-size="7.2" text-anchor="middle" fill="#333">ns</text>
<polyline points="90.00,549.20 90.00,515.40 106.20,515.40 106.20,520.00" fill="none" stroke="#3a3a3a" stroke-width="1.0"/>
<circle cx="94.50" cy="509.50" r="1.2" fill="#1a1a1a"/>
<circle cx="98.10" cy="509.50" r="1.2" fill="#1a1a1a"/>
<circle cx="101.70" cy="509.50" r="1.2" fill="#1a1a1a"/>
<polyline points="132.80,564.60 132.80,515.40 148.50,515.40 148.50,563.80" fill="none" stroke="#3a3a3a" stroke-width="1.0"/>
<text transform="translate(140.65,511.80)" font-size="7.2" text-anchor="middle" fill="#333">ns</text>
<circle cx="170.00" cy="524.50" r="1.45" fill="#94102e"/>
<rect x="168.55" y="533.85" width="2.9" height="2.9" fill="#143760"/>
<text transform="translate(175.10,526.60) scale(0.925,1)" font-size="7.8" text-anchor="start" fill="#2a2a2a">CAR T cells only</text>
<text transform="translate(175.10,537.70) scale(0.925,1)" font-size="7.8" text-anchor="start" fill="#2a2a2a">CAR T cells + NKTR-255</text>
<circle cx="175.90" cy="560.80" r="0.88" fill="#2a2a2a"/>
<circle cx="178.65" cy="560.80" r="0.88" fill="#2a2a2a"/>
<circle cx="181.40" cy="560.80" r="0.88" fill="#2a2a2a"/>
<text transform="translate(185.00,564.20)" font-size="7.2" text-anchor="start" fill="#2a2a2a" font-style="italic">P</text>
<polyline points="195.90,559.20 191.00,561.70 195.90,564.20" fill="none" stroke="#2a2a2a" stroke-width="0.75"/>
<text transform="translate(198.60,564.20)" font-size="7.5" text-anchor="start" fill="#2a2a2a">.001</text>
<text transform="translate(266.20,316.80) scale(1.050,1)" font-size="10.8" text-anchor="start" fill="#111" font-weight="bold" stroke="#111" stroke-width="0.35">D</text>
<text transform="translate(324.25,329.45) scale(0.965,1)" font-size="9.9" text-anchor="start" fill="#222" stroke="#222" stroke-width="0.15">CD8<tspan font-size="6.6" dy="-4.0">+</tspan><tspan dy="4.0"> CAR T cells</tspan></text>
<rect x="311.40" y="416.30" width="15.00" height="7.95" fill="#f0c1b5"/>
<rect x="335.35" y="362.30" width="14.90" height="61.95" fill="#b8bfda"/>
<rect x="375.70" y="420.00" width="15.00" height="4.25" fill="#f0c1b5"/>
<rect x="399.90" y="383.80" width="14.60" height="40.45" fill="#b8bfda"/>
<line x1="318.90" y1="415.50" x2="318.90" y2="417.00" stroke="#94102e" stroke-width="0.8"/>
<line x1="315.40" y1="415.50" x2="322.40" y2="415.50" stroke="#94102e" stroke-width="0.8"/>
<line x1="315.40" y1="417.00" x2="322.40" y2="417.00" stroke="#94102e" stroke-width="0.8"/>
<circle cx="312.30" cy="417.90" r="1.7" fill="#94102e"/>
<circle cx="319.00" cy="414.40" r="1.7" fill="#94102e"/>
<circle cx="325.30" cy="416.50" r="1.7" fill="#94102e"/>
<line x1="342.80" y1="361.30" x2="342.80" y2="361.30" stroke="#143760" stroke-width="0.8"/>
<line x1="336.10" y1="361.30" x2="349.50" y2="361.30" stroke="#143760" stroke-width="0.8"/>
<line x1="336.10" y1="361.30" x2="349.50" y2="361.30" stroke="#143760" stroke-width="0.8"/>
<rect x="334.80" y="359.80" width="3.0" height="3.0" fill="#143760"/>
<rect x="341.50" y="357.60" width="3.0" height="3.0" fill="#143760"/>
<rect x="348.20" y="359.80" width="3.0" height="3.0" fill="#143760"/>
<line x1="383.20" y1="420.30" x2="383.20" y2="420.30" stroke="#94102e" stroke-width="0.8"/>
<line x1="377.20" y1="420.30" x2="389.20" y2="420.30" stroke="#94102e" stroke-width="0.8"/>
<line x1="377.20" y1="420.30" x2="389.20" y2="420.30" stroke="#94102e" stroke-width="0.8"/>
<circle cx="377.00" cy="421.30" r="1.7" fill="#94102e"/>
<circle cx="383.00" cy="419.50" r="1.7" fill="#94102e"/>
<circle cx="389.00" cy="420.00" r="1.7" fill="#94102e"/>
<line x1="407.20" y1="381.30" x2="407.20" y2="381.30" stroke="#143760" stroke-width="0.8"/>
<line x1="403.70" y1="381.30" x2="410.70" y2="381.30" stroke="#143760" stroke-width="0.8"/>
<line x1="403.70" y1="381.30" x2="410.70" y2="381.30" stroke="#143760" stroke-width="0.8"/>
<rect x="401.90" y="379.80" width="3.0" height="3.0" fill="#143760"/>
<rect x="405.00" y="384.10" width="3.0" height="3.0" fill="#143760"/>
<rect x="408.90" y="379.80" width="3.0" height="3.0" fill="#143760"/>
<line x1="302.75" y1="341.00" x2="302.75" y2="424.85" stroke="#1a1a1a" stroke-width="1.2"/>
<line x1="299.75" y1="424.25" x2="302.75" y2="424.25" stroke="#1a1a1a" stroke-width="1.0"/>
<text transform="translate(297.00,426.95) scale(1.020,1)" font-size="7.8" text-anchor="end" fill="#222" stroke="#222" stroke-width="0.25">0</text>
<line x1="299.75" y1="404.25" x2="302.75" y2="404.25" stroke="#1a1a1a" stroke-width="1.0"/>
<text transform="translate(297.00,406.95) scale(1.020,1)" font-size="7.8" text-anchor="end" fill="#222" stroke="#222" stroke-width="0.25">500</text>
<line x1="299.75" y1="384.25" x2="302.75" y2="384.25" stroke="#1a1a1a" stroke-width="1.0"/>
<text transform="translate(297.00,386.95) scale(1.020,1)" font-size="7.8" text-anchor="end" fill="#222" stroke="#222" stroke-width="0.25">1000</text>
<line x1="299.75" y1="364.25" x2="302.75" y2="364.25" stroke="#1a1a1a" stroke-width="1.0"/>
<text transform="translate(297.00,366.95) scale(1.020,1)" font-size="7.8" text-anchor="end" fill="#222" stroke="#222" stroke-width="0.25">1500</text>
<line x1="299.75" y1="344.25" x2="302.75" y2="344.25" stroke="#1a1a1a" stroke-width="1.0"/>
<text transform="translate(297.00,346.95) scale(1.020,1)" font-size="7.8" text-anchor="end" fill="#222" stroke="#222" stroke-width="0.25">2000</text>
<line x1="299.50" y1="424.25" x2="422.50" y2="424.25" stroke="#1a1a1a" stroke-width="1.2"/>
<line x1="331.25" y1="424.25" x2="331.25" y2="426.65" stroke="#1a1a1a" stroke-width="0.9"/>
<text transform="translate(331.25,435.80) scale(1.050,1)" font-size="7.8" text-anchor="middle" fill="#222" stroke="#222" stroke-width="0.15">8</text>
<line x1="395.00" y1="424.25" x2="395.00" y2="426.65" stroke="#1a1a1a" stroke-width="0.9"/>
<text transform="translate(395.00,435.80) scale(1.050,1)" font-size="7.8" text-anchor="middle" fill="#222" stroke="#222" stroke-width="0.15">15</text>
<text transform="translate(320.50,449.35) scale(0.552,1)" font-size="10.4" text-anchor="start" fill="#222" stroke="#222" stroke-width="0.5" letter-spacing="0.6">Days after CAR T cell infusion</text>
<text transform="translate(272.60,399.60) rotate(-90) scale(0.750,1)" font-size="8.6" text-anchor="start" fill="#222" stroke="#222" stroke-width="0.3">BCL-2 (MFI)</text>
<polyline points="318.30,410.20 318.30,350.20 343.30,350.20 343.30,354.60" fill="none" stroke="#3a3a3a" stroke-width="1.0"/>
<circle cx="325.40" cy="345.00" r="1.2" fill="#1a1a1a"/>
<circle cx="329.00" cy="345.00" r="1.2" fill="#1a1a1a"/>
<circle cx="332.60" cy="345.00" r="1.2" fill="#1a1a1a"/>
<circle cx="336.20" cy="345.00" r="1.2" fill="#1a1a1a"/>
<polyline points="383.00,414.50 383.00,350.20 407.00,350.20 407.00,376.50" fill="none" stroke="#3a3a3a" stroke-width="1.0"/>
<circle cx="389.60" cy="345.00" r="1.2" fill="#1a1a1a"/>
<circle cx="393.20" cy="345.00" r="1.2" fill="#1a1a1a"/>
<circle cx="396.80" cy="345.00" r="1.2" fill="#1a1a1a"/>
<circle cx="400.40" cy="345.00" r="1.2" fill="#1a1a1a"/>
<circle cx="433.80" cy="377.20" r="1.45" fill="#94102e"/>
<rect x="432.35" y="386.85" width="2.9" height="2.9" fill="#143760"/>
<text transform="translate(438.90,379.40) scale(0.925,1)" font-size="7.8" text-anchor="start" fill="#2a2a2a">CAR T cells only</text>
<text transform="translate(438.90,390.50) scale(0.925,1)" font-size="7.8" text-anchor="start" fill="#2a2a2a">CAR T cells + NKTR-255</text>
<circle cx="440.05" cy="414.20" r="0.88" fill="#2a2a2a"/>
<circle cx="442.80" cy="414.20" r="0.88" fill="#2a2a2a"/>
<circle cx="445.55" cy="414.20" r="0.88" fill="#2a2a2a"/>
<circle cx="448.30" cy="414.20" r="0.88" fill="#2a2a2a"/>
<text transform="translate(451.90,417.60)" font-size="7.2" text-anchor="start" fill="#2a2a2a" font-style="italic">P</text>
<polyline points="462.80,412.60 457.90,415.10 462.80,417.60" fill="none" stroke="#2a2a2a" stroke-width="0.75"/>
<text transform="translate(465.50,417.60)" font-size="7.5" text-anchor="start" fill="#2a2a2a">.0001</text>
<text transform="translate(325.00,480.20) scale(0.965,1)" font-size="9.9" text-anchor="start" fill="#222" stroke="#222" stroke-width="0.15">CD4<tspan font-size="6.6" dy="-4.0">+</tspan><tspan dy="4.0"> CAR T cells</tspan></text>
<rect x="312.00" y="564.40" width="15.20" height="8.10" fill="#f0c1b5"/>
<rect x="336.20" y="508.30" width="14.80" height="64.20" fill="#b8bfda"/>
<rect x="375.50" y="557.60" width="16.00" height="14.90" fill="#f0c1b5"/>
<rect x="399.80" y="522.60" width="15.00" height="49.90" fill="#b8bfda"/>
<line x1="319.60" y1="563.40" x2="319.60" y2="563.40" stroke="#94102e" stroke-width="0.8"/>
<line x1="314.10" y1="563.40" x2="325.10" y2="563.40" stroke="#94102e" stroke-width="0.8"/>
<line x1="314.10" y1="563.40" x2="325.10" y2="563.40" stroke="#94102e" stroke-width="0.8"/>
<circle cx="316.20" cy="562.00" r="1.7" fill="#94102e"/>
<circle cx="319.60" cy="566.20" r="1.7" fill="#94102e"/>
<circle cx="323.10" cy="562.00" r="1.7" fill="#94102e"/>
<line x1="343.60" y1="508.00" x2="343.60" y2="508.00" stroke="#143760" stroke-width="0.8"/>
<line x1="337.10" y1="508.00" x2="350.10" y2="508.00" stroke="#143760" stroke-width="0.8"/>
<line x1="337.10" y1="508.00" x2="350.10" y2="508.00" stroke="#143760" stroke-width="0.8"/>
<rect x="335.50" y="506.50" width="3.0" height="3.0" fill="#143760"/>
<rect x="342.40" y="505.80" width="3.0" height="3.0" fill="#143760"/>
<rect x="348.20" y="506.50" width="3.0" height="3.0" fill="#143760"/>
<line x1="383.50" y1="557.00" x2="383.50" y2="557.00" stroke="#94102e" stroke-width="0.8"/>
<line x1="377.00" y1="557.00" x2="390.00" y2="557.00" stroke="#94102e" stroke-width="0.8"/>
<line x1="377.00" y1="557.00" x2="390.00" y2="557.00" stroke="#94102e" stroke-width="0.8"/>
<circle cx="377.40" cy="557.00" r="1.7" fill="#94102e"/>
<circle cx="383.10" cy="555.10" r="1.7" fill="#94102e"/>
<circle cx="390.00" cy="557.00" r="1.7" fill="#94102e"/>
<line x1="407.30" y1="521.90" x2="407.30" y2="521.90" stroke="#143760" stroke-width="0.8"/>
<line x1="403.70" y1="521.90" x2="410.90" y2="521.90" stroke="#143760" stroke-width="0.8"/>
<line x1="403.70" y1="521.90" x2="410.90" y2="521.90" stroke="#143760" stroke-width="0.8"/>
<rect x="402.40" y="518.50" width="3.0" height="3.0" fill="#143760"/>
<rect x="405.90" y="523.10" width="3.0" height="3.0" fill="#143760"/>
<rect x="409.40" y="518.50" width="3.0" height="3.0" fill="#143760"/>
<line x1="303.50" y1="490.00" x2="303.50" y2="573.10" stroke="#1a1a1a" stroke-width="1.2"/>
<line x1="300.50" y1="572.50" x2="303.50" y2="572.50" stroke="#1a1a1a" stroke-width="1.0"/>
<text transform="translate(297.00,575.20) scale(1.020,1)" font-size="7.8" text-anchor="end" fill="#222" stroke="#222" stroke-width="0.25">0</text>
<line x1="300.50" y1="552.62" x2="303.50" y2="552.62" stroke="#1a1a1a" stroke-width="1.0"/>
<text transform="translate(297.00,555.33) scale(1.020,1)" font-size="7.8" text-anchor="end" fill="#222" stroke="#222" stroke-width="0.25">500</text>
<line x1="300.50" y1="532.75" x2="303.50" y2="532.75" stroke="#1a1a1a" stroke-width="1.0"/>
<text transform="translate(297.00,535.45) scale(1.020,1)" font-size="7.8" text-anchor="end" fill="#222" stroke="#222" stroke-width="0.25">1000</text>
<line x1="300.50" y1="512.88" x2="303.50" y2="512.88" stroke="#1a1a1a" stroke-width="1.0"/>
<text transform="translate(297.00,515.58) scale(1.020,1)" font-size="7.8" text-anchor="end" fill="#222" stroke="#222" stroke-width="0.25">1500</text>
<line x1="300.50" y1="493.00" x2="303.50" y2="493.00" stroke="#1a1a1a" stroke-width="1.0"/>
<text transform="translate(297.00,495.70) scale(1.020,1)" font-size="7.8" text-anchor="end" fill="#222" stroke="#222" stroke-width="0.25">2000</text>
<line x1="300.00" y1="572.50" x2="422.50" y2="572.50" stroke="#1a1a1a" stroke-width="1.2"/>
<line x1="331.00" y1="572.50" x2="331.00" y2="574.90" stroke="#1a1a1a" stroke-width="0.9"/>
<text transform="translate(331.00,585.80) scale(1.050,1)" font-size="7.8" text-anchor="middle" fill="#222" stroke="#222" stroke-width="0.15">8</text>
<line x1="395.40" y1="572.50" x2="395.40" y2="574.90" stroke="#1a1a1a" stroke-width="0.9"/>
<text transform="translate(395.40,585.80) scale(1.050,1)" font-size="7.8" text-anchor="middle" fill="#222" stroke="#222" stroke-width="0.15">15</text>
<text transform="translate(320.00,599.10) scale(0.552,1)" font-size="10.4" text-anchor="start" fill="#222" stroke="#222" stroke-width="0.5" letter-spacing="0.6">Days after CAR T cell infusion</text>
<text transform="translate(272.60,549.30) rotate(-90) scale(0.750,1)" font-size="8.6" text-anchor="start" fill="#222" stroke="#222" stroke-width="0.3">BCL-2 (MFI)</text>
<polyline points="319.60,560.00 319.60,497.50 343.90,497.50 343.90,505.00" fill="none" stroke="#3a3a3a" stroke-width="1.0"/>
<circle cx="326.35" cy="493.40" r="1.2" fill="#1a1a1a"/>
<circle cx="329.95" cy="493.40" r="1.2" fill="#1a1a1a"/>
<circle cx="333.55" cy="493.40" r="1.2" fill="#1a1a1a"/>
<circle cx="337.15" cy="493.40" r="1.2" fill="#1a1a1a"/>
<polyline points="383.60,552.40 383.60,497.50 407.40,497.50 407.40,516.60" fill="none" stroke="#3a3a3a" stroke-width="1.0"/>
<circle cx="390.10" cy="493.40" r="1.2" fill="#1a1a1a"/>
<circle cx="393.70" cy="493.40" r="1.2" fill="#1a1a1a"/>
<circle cx="397.30" cy="493.40" r="1.2" fill="#1a1a1a"/>
<circle cx="400.90" cy="493.40" r="1.2" fill="#1a1a1a"/>
<circle cx="434.00" cy="525.20" r="1.45" fill="#94102e"/>
<rect x="432.55" y="534.85" width="2.9" height="2.9" fill="#143760"/>
<text transform="translate(438.90,527.60) scale(0.925,1)" font-size="7.8" text-anchor="start" fill="#2a2a2a">CAR T cells only</text>
<text transform="translate(438.90,538.70) scale(0.925,1)" font-size="7.8" text-anchor="start" fill="#2a2a2a">CAR T cells + NKTR-255</text>
<circle cx="440.35" cy="561.80" r="0.88" fill="#2a2a2a"/>
<circle cx="443.10" cy="561.80" r="0.88" fill="#2a2a2a"/>
<circle cx="445.85" cy="561.80" r="0.88" fill="#2a2a2a"/>
<circle cx="448.60" cy="561.80" r="0.88" fill="#2a2a2a"/>
<text transform="translate(452.20,565.20)" font-size="7.2" text-anchor="start" fill="#2a2a2a" font-style="italic">P</text>
<polyline points="463.10,560.20 458.20,562.70 463.10,565.20" fill="none" stroke="#2a2a2a" stroke-width="0.75"/>
<text transform="translate(465.80,565.20)" font-size="7.5" text-anchor="start" fill="#2a2a2a">.0001</text>
</svg>
</body></html>
